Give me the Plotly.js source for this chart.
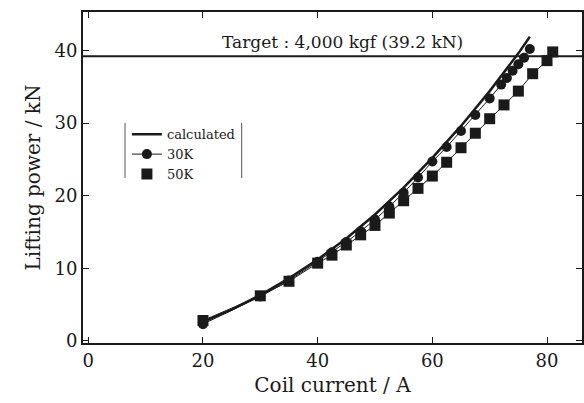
<!DOCTYPE html>
<html>
<head>
<meta charset="utf-8">
<script src="https://cdn.plot.ly/plotly-3.0.1.min.js"></script>
<style>html,body{margin:0;padding:0;background:#fff;}#chart{width:584px;height:403px;}</style>
</head>
<body>
<div id="chart"></div>
<script>
// Calculated curve
const calcX = [20, 25, 30, 35, 40, 45, 50, 55, 60, 65, 70, 75, 77];
const calcY = [2.6, 4.3, 6.3, 8.6, 11.2, 14.1, 17.4, 21.1, 25.2, 29.6, 34.4, 39.6, 41.9];
// 30K measurements
const k30X = [20, 30, 35, 40, 42.5, 45, 47.5, 50, 52.5, 55, 57.5, 60, 62.5, 65, 67.5, 70, 72, 73, 74, 75, 76, 77];
const k30Y = [2.3, 6.1, 8.3, 10.9, 12.2, 13.6, 15.1, 16.7, 18.5, 20.4, 22.5, 24.7, 26.7, 28.9, 31.1, 33.4, 35.3, 36.2, 37.2, 38.1, 39.0, 40.2];
// 50K measurements
const k50X = [20, 30, 35, 40, 42.5, 45, 47.5, 50, 52.5, 55, 57.5, 60, 62.5, 65, 67.5, 70, 72.5, 75, 77.5, 80, 81];
const k50Y = [2.8, 6.2, 8.2, 10.7, 11.8, 13.2, 14.6, 15.9, 17.6, 19.3, 21.0, 22.7, 24.6, 26.6, 28.6, 30.6, 32.5, 34.4, 36.8, 38.6, 39.8];
// Target
const targetY = 39.2;
const targetText = "Target : 4,000 kgf (39.2 kN)";
const xTicks = [0, 20, 40, 60, 80];
const yTicks = [0, 10, 20, 30, 40];

const ink = '#1a1a1a';
const fontFam = '"DejaVu Serif", serif';

const traces = [
  {x: calcX, y: calcY, mode: 'lines', name: 'calculated', line: {color: ink, width: 2.5}},
  {x: k30X, y: k30Y, mode: 'lines+markers', name: '30K', line: {color: ink, width: 1},
   marker: {symbol: 'circle', size: 10, color: ink}},
  {x: k50X, y: k50Y, mode: 'lines', showlegend: false, line: {color: ink, width: 1}, hoverinfo: 'skip'},
  {x: k50X, y: k50Y, mode: 'markers', name: '50K', marker: {symbol: 'square', size: 11, color: ink}}
];

const axisCommon = {
  showgrid: false, zeroline: false, showline: true, linecolor: ink, linewidth: 2,
  mirror: 'ticks', ticks: 'inside', ticklen: 6, tickwidth: 1, tickcolor: ink,
  tickfont: {family: fontFam, size: 18, color: ink}
};

const layout = {
  width: 584, height: 403,
  margin: {l: 83, r: 2, t: 12, b: 60},
  paper_bgcolor: '#fff', plot_bgcolor: '#fff',
  font: {family: fontFam, color: ink},
  xaxis: Object.assign({}, axisCommon, {
    range: [-0.92, 86.1], tickvals: xTicks,
    title: {text: 'Coil current / A', font: {family: fontFam, size: 20, color: ink}, standoff: 8}
  }),
  yaxis: Object.assign({}, axisCommon, {
    range: [-0.3, 45.3], tickvals: yTicks,
    title: {text: 'Lifting power / kN', font: {family: fontFam, size: 20, color: ink}, standoff: 8}
  }),
  showlegend: true,
  legend: {
    x: 0.088, y: 0.676, xanchor: 'left', yanchor: 'top',
    bgcolor: 'rgba(0,0,0,0)', borderwidth: 0,
    font: {family: fontFam, size: 13, color: ink},
    tracegroupgap: 0
  },
  shapes: [
    {type: 'line', xref: 'paper', yref: 'y', x0: 0, x1: 1, y0: targetY, y1: targetY,
     line: {color: ink, width: 2}},
    {type: 'line', xref: 'paper', yref: 'paper', x0: 0.0842, x1: 0.0842, y0: 0.4985, y1: 0.665,
     line: {color: '#555', width: 1}},
    {type: 'line', xref: 'paper', yref: 'paper', x0: 0.318, x1: 0.318, y0: 0.4985, y1: 0.665,
     line: {color: '#555', width: 1}}
  ],
  annotations: [
    {text: targetText, xref: 'paper', yref: 'paper', x: 0.5196, y: 0.910,
     xanchor: 'center', yanchor: 'middle', showarrow: false,
     font: {family: fontFam, size: 17, color: ink}}
  ]
};

Plotly.newPlot('chart', traces, layout, {displayModeBar: false, staticPlot: true});
</script>
</body>
</html>
